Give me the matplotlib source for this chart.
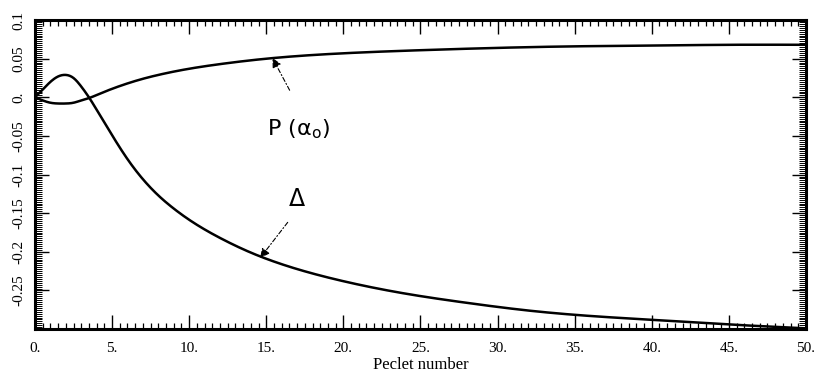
import numpy as np
import matplotlib
matplotlib.use("Agg")
import matplotlib.pyplot as plt
from matplotlib.ticker import FixedLocator, MultipleLocator

# Data
peclet_delta = [0, 0.5, 1, 1.5, 2, 2.5, 3, 3.5, 4, 5, 6, 7, 8, 9, 10, 11, 12, 14, 16, 18, 20, 24, 28, 32, 36, 40, 45, 50]
delta_vals = [0, 0.010, 0.020, 0.027, 0.029, 0.025, 0.014, 0.000, -0.016, -0.049, -0.080, -0.106,
              -0.127, -0.144, -0.1585, -0.171, -0.182, -0.201, -0.216, -0.228, -0.238, -0.254, -0.266,
              -0.276, -0.283, -0.288, -0.294, -0.299]

peclet_p = [0, 0.5, 1, 1.5, 2, 2.5, 3, 3.5, 4, 5, 6, 7, 8, 10, 12, 15, 20, 25, 30, 35, 40, 45, 50]
p_vals = [0, -0.004, -0.007, -0.008, -0.008, -0.007, -0.004, -0.001, 0.003, 0.011, 0.018, 0.024,
          0.029, 0.037, 0.043, 0.050, 0.057, 0.061, 0.064, 0.066, 0.067, 0.068, 0.068]

x_ticks = [0, 5, 10, 15, 20, 25, 30, 35, 40, 45, 50]
x_labels = ["0.", "5.", "10.", "15.", "20.", "25.", "30.", "35.", "40.", "45.", "50."]
y_ticks = [0.1, 0.05, 0.0, -0.05, -0.1, -0.15, -0.2, -0.25, -0.3]
y_labels = ["0.1", "0.05", "0.", "-0.05", "-0.1", "-0.15", "-0.2", "-0.25", ""]

serif = ["Liberation Serif", "DejaVu Serif"]

fig = plt.figure(figsize=(8.17, 3.89), dpi=100)
ax = fig.add_axes([0.0428, 0.154, 0.9437, 0.7944])


def spline(xs, ys, n=800):
    """Natural cubic spline through the read points (for a smooth pen-drawn curve)."""
    x = np.asarray(xs, float); y = np.asarray(ys, float)
    N = len(x); h = np.diff(x)
    A = np.zeros((N, N)); r = np.zeros(N)
    A[0, 0] = A[-1, -1] = 1.0
    for i in range(1, N - 1):
        A[i, i - 1] = h[i - 1]; A[i, i] = 2 * (h[i - 1] + h[i]); A[i, i + 1] = h[i]
        r[i] = 6 * ((y[i + 1] - y[i]) / h[i] - (y[i] - y[i - 1]) / h[i - 1])
    M = np.linalg.solve(A, r)
    xx = np.linspace(x[0], x[-1], n)
    k = np.clip(np.searchsorted(x, xx) - 1, 0, N - 2)
    a = x[k + 1] - xx; b = xx - x[k]; hk = h[k]
    yy = (M[k] * a**3 + M[k + 1] * b**3) / (6 * hk) + (y[k] / hk - M[k] * hk / 6) * a \
        + (y[k + 1] / hk - M[k + 1] * hk / 6) * b
    return xx, yy


xd, yd = spline(peclet_delta, delta_vals)
xp, yp = spline(peclet_p, p_vals)
ax.plot(xd, yd, color="black", lw=1.8)
ax.plot(xp, yp, color="black", lw=1.8)

ax.set_xlim(0, 50)
ax.set_ylim(-0.3, 0.1)

ax.xaxis.set_major_locator(FixedLocator(x_ticks))
ax.set_xticklabels(x_labels, fontfamily=serif, fontsize=11)
ax.xaxis.set_minor_locator(MultipleLocator(0.5))
ax.yaxis.set_major_locator(FixedLocator(y_ticks))
ax.set_yticklabels(y_labels, fontfamily=serif, fontsize=11, rotation=90, va="center")
ax.yaxis.set_minor_locator(MultipleLocator(0.0025))

ax.tick_params(which="both", direction="in", top=True, right=True, color="black")
ax.tick_params(axis="x", which="major", length=10, width=1.0, pad=9)
ax.tick_params(axis="x", which="minor", length=4.5, width=0.9)
ax.tick_params(axis="y", which="major", length=10, width=1.0, pad=7)
ax.tick_params(axis="y", which="minor", length=5, width=0.7)
for s in ax.spines.values():
    s.set_linewidth(2.2)

ax.set_xlabel("Peclet number", fontfamily=serif, fontsize=12, labelpad=2)

arrow = dict(arrowstyle="-|>", linestyle=(0, (4, 2, 1, 2)), lw=0.8, color="black",
             mutation_scale=14, shrinkA=2, shrinkB=0)
ax.annotate("", xy=(15.4, 0.051), xytext=(16.6, 0.006), arrowprops=arrow)
ax.text(17.1, -0.041, "P (α$_{\\mathregular{o}}$)", fontsize=16, ha="center", va="center",
        family="DejaVu Sans", color="black")
ax.annotate("", xy=(14.6, -0.208), xytext=(16.5, -0.159), arrowprops=arrow)
ax.text(17.0, -0.132, "Δ", fontsize=17, ha="center", va="center", family="DejaVu Sans",
        color="black")

fig.savefig("out.png", dpi=100)
